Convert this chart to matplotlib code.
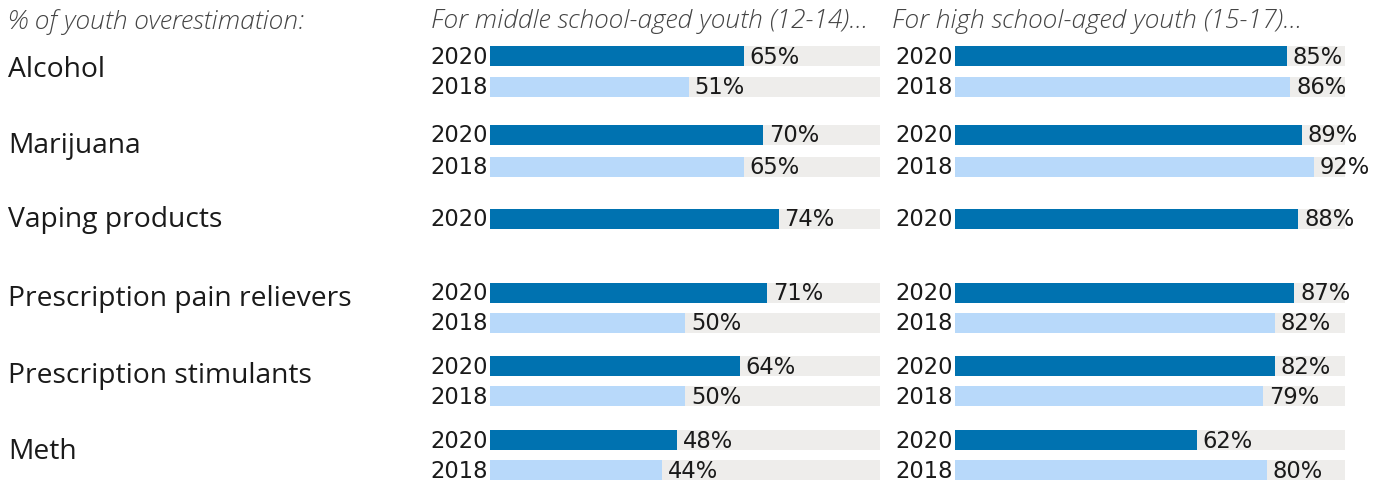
import matplotlib
matplotlib.use("Agg")
import matplotlib.pyplot as plt

# data
categories = ["Alcohol", "Marijuana", "Vaping products",
              "Prescription pain relievers", "Prescription stimulants", "Meth"]
years = ["2020", "2018"]
middle_2020 = [65, 70, 74, 71, 64, 48]
middle_2018 = [51, 65, None, 50, 50, 44]
high_2020 = [85, 89, 88, 87, 82, 62]
high_2018 = [86, 92, None, 82, 79, 80]

panel_titles = ["For middle school-aged youth (12-14)...",
                "For high school-aged youth (15-17)..."]
left_title = "% of youth overestimation:"

# layout (pixel rows, figure is 1379x482)
W, H = 1379, 482
row_2020 = [56, 135, 219, 293, 366, 440]
row_2018 = [87, 167, None, 323, 396, 470]
label_y = [70, 146, 220, 299, 376, 452]
bar_h = 20

dark_blue = "#0072B0"
light_blue = "#B8D9FA"
track = "#EEEDEB"
num_font = ["DejaVu Sans"]
txt_font = ["Open Sans", "DejaVu Sans"]
num_size = 16.3

fig = plt.figure(figsize=(W / 100, H / 100), dpi=100)
fig.patch.set_facecolor("white")


def draw_panel(x0, vals20, vals18):
    ax = fig.add_axes([x0 / W, 0, 390 / W, 1])
    ax.set_xlim(0, 100)
    ax.set_ylim(H, 0)
    ax.axis("off")
    for vals, rows, yr, col in ((vals20, row_2020, years[0], dark_blue),
                                (vals18, row_2018, years[1], light_blue)):
        for v, y in zip(vals, rows):
            if v is None:
                continue
            ax.barh(y, 100, height=bar_h, color=track, lw=0)
            ax.barh(y, v, height=bar_h, color=col, lw=0)
            ax.text(v + 1.5, y + 1, f"{v}%", va="center", ha="left",
                    fontsize=num_size, family=num_font, color="#1a1a1a")
            ax.text(-0.5, y + 1, yr, va="center", ha="right",
                    fontsize=num_size, family=num_font, color="#1a1a1a")
    return ax


draw_panel(490, middle_2020, middle_2018)
draw_panel(955, high_2020, high_2018)

# headers
for x, s in ((8, left_title), (431, panel_titles[0]), (892, panel_titles[1])):
    fig.text(x / W, 1 - 22 / H, s, fontsize=19, style="italic",
             weight="light", family=txt_font, color="#444444", va="center")

for cat, y in zip(categories, label_y):
    fig.text(8 / W, 1 - y / H, cat, fontsize=20.3, family=txt_font,
             color="#1a1a1a", va="center")

fig.savefig("out.png", dpi=100, facecolor="white")
